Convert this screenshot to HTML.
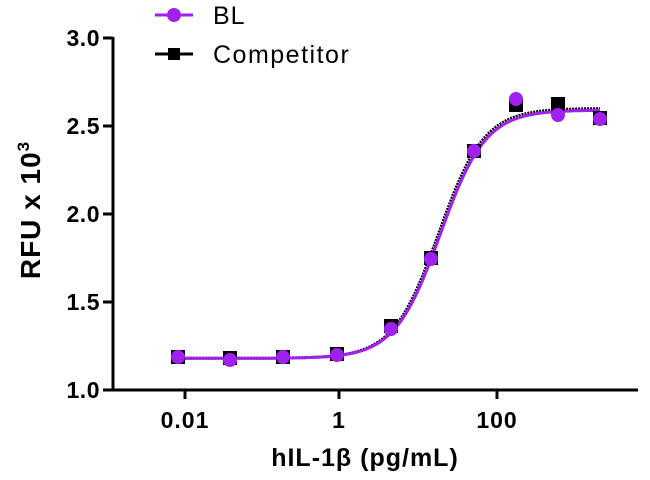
<!DOCTYPE html>
<html><head><style>
body{margin:0;background:#fff;}
svg text{font-family:"Liberation Sans",Arial,sans-serif;}
</style></head><body>
<svg id="s" width="650" height="475" xmlns="http://www.w3.org/2000/svg">
<g stroke="#000" stroke-width="3" fill="none">
<line x1="113" y1="37" x2="113" y2="391"/>
<line x1="103" y1="390" x2="638" y2="390"/>
<line x1="103" y1="38" x2="113" y2="38"/>
<line x1="103" y1="126" x2="113" y2="126"/>
<line x1="103" y1="214" x2="113" y2="214"/>
<line x1="103" y1="302" x2="113" y2="302"/>
<line x1="185" y1="390" x2="185" y2="399"/>
<line x1="339" y1="390" x2="339" y2="399"/>
<line x1="497" y1="390" x2="497" y2="399"/>
</g>
<g font-size="23" font-weight="bold" text-anchor="end" letter-spacing="0.5">
<text x="100" y="46">3.0</text>
<text x="100" y="134">2.5</text>
<text x="100" y="222">2.0</text>
<text x="100" y="310">1.5</text>
<text x="100" y="398">1.0</text>
</g>
<g font-size="23" font-weight="bold" text-anchor="middle" letter-spacing="1">
<text x="185" y="428">0.01</text>
<text x="339" y="428">1</text>
<text x="497" y="428">100</text>
<text x="365" y="466" font-size="25">hIL-1β (pg/mL)</text>
</g>
<text transform="translate(40,210) rotate(-90)" font-size="28" font-weight="bold" text-anchor="middle" letter-spacing="1">RFU x 10<tspan font-size="17" dy="-11">3</tspan></text>
<line x1="155" y1="15" x2="193" y2="15" stroke="#a020f0" stroke-width="3"/>
<circle cx="174" cy="15" r="7" fill="#a020f0"/>
<text x="213" y="24" font-size="25" letter-spacing="1">BL</text>
<line x1="155" y1="54" x2="193" y2="54" stroke="#000" stroke-width="3"/>
<rect x="168" y="48" width="12" height="12" fill="#000"/>
<text x="213" y="63" font-size="25" letter-spacing="1.5">Competitor</text>
<path id="c2" fill="none" stroke="#000" stroke-width="3" stroke-dasharray="2,1"/>
<path id="c1" fill="none" stroke="#a020f0" stroke-width="3"/>
<g id="sq" fill="#000"></g>
<g id="ci" fill="#a020f0"></g>
</svg>
<script>
function f(x,b,t,m,h){var l=(x-339)/78.5;return b+(t-b)/(1+Math.pow(10,(m-l)*h));}
function yp(v){return 390-(v-1)*176;}
function path(m,h,t){var d="";for(var x=178;x<=600;x+=2){d+=(d?"L":"M")+x+","+yp(f(x,1.18,t,m,h)).toFixed(1);}return d;}
document.getElementById("c1").setAttribute("d",path(1.29,1.5,2.59));
document.getElementById("c2").setAttribute("d",path(1.27,1.5,2.60));
var sq=[[178,357],[230,358],[283,357],[337,354],[391,326],[431,258],[474,151],[516,105],[558,104],[600,118]];
var ci=[[178,357],[230,360],[283,357],[337,355],[391,329],[431,259],[474,151],[516,99],[558,115],[600,119]];
var s="";sq.forEach(function(p){s+='<rect x="'+(p[0]-7)+'" y="'+(p[1]-7)+'" width="14" height="14"/>';});
document.getElementById("sq").innerHTML=s;s="";
ci.forEach(function(p){s+='<circle cx="'+p[0]+'" cy="'+p[1]+'" r="7"/>';});
document.getElementById("ci").innerHTML=s;
</script>
</body></html>
